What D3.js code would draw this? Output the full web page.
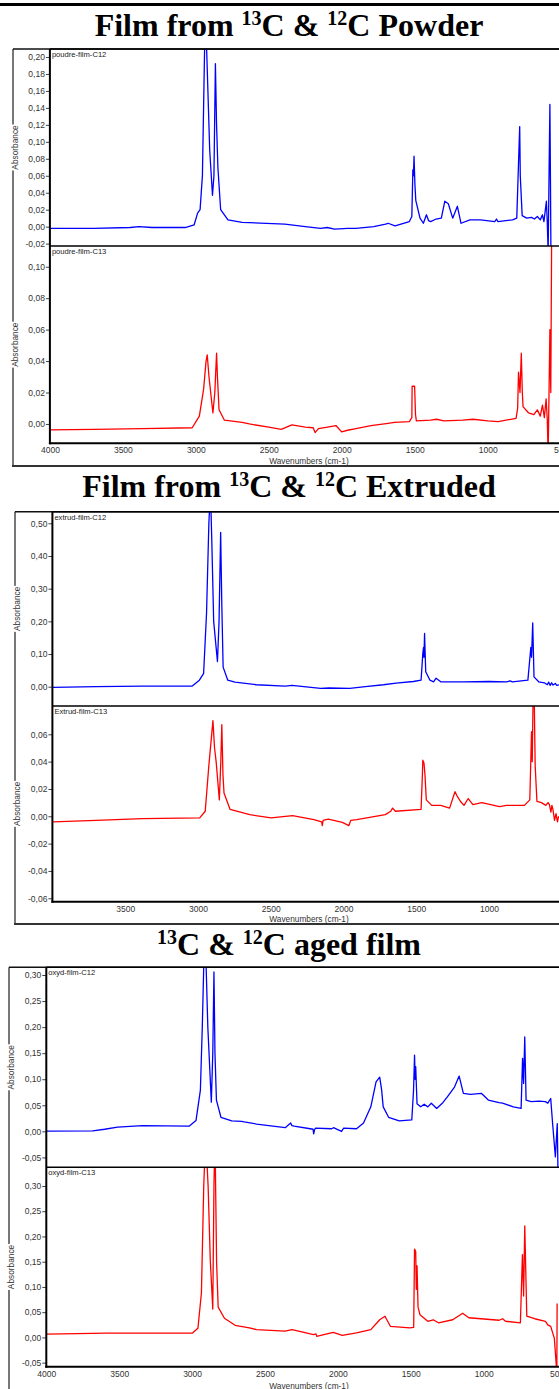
<!DOCTYPE html>
<html>
<head>
<meta charset="utf-8">
<script src="https://cdn.jsdelivr.net/npm/d3@7"></script>
<style>
  body { margin: 0; background: #fff; }
  svg { display: block; }
</style>
</head>
<body>
<svg id="chart" width="559" height="1389"></svg>
<script>
// spectra: [wavenumber (cm-1), absorbance]
const powderC12 = [[4000,-0.002],[3700,-0.002],[3450,-0.001],[3390,0.0],[3300,-0.001],[3073,-0.001],[3012,0.002],[2988,0.016],[2971,0.02],[2955,0.06],[2945,0.16],[2936,0.25],[2928,0.22],[2905,0.09],[2886,0.037],[2876,0.06],[2866,0.192],[2858,0.12],[2849,0.07],[2830,0.02],[2780,0.008],[2683,0.005],[2390,0.003],[2250,0.0],[2146,-0.002],[2100,-0.001],[2050,-0.003],[1960,-0.002],[1903,-0.002],[1781,0.0],[1700,0.003],[1683,0.004],[1635,0.001],[1537,0.006],[1520,0.012],[1513,0.067],[1509,0.06],[1505,0.083],[1499,0.05],[1493,0.031],[1464,0.01],[1441,0.004],[1420,0.014],[1405,0.007],[1391,0.006],[1354,0.009],[1318,0.01],[1294,0.03],[1270,0.027],[1240,0.01],[1208,0.024],[1183,0.004],[1122,0.008],[1049,0.008],[952,0.006],[940,0.009],[930,0.006],[830,0.008],[801,0.01],[789,0.075],[781,0.118],[777,0.06],[764,0.013],[733,0.01],[700,0.011],[680,0.009],[660,0.012],[640,0.008],[625,0.014],[615,0.006],[605,0.02],[598,0.03],[592,0.005],[586,-0.03],[580,0.06],[574,0.144],[570,0.05],[567,-0.03],[562,-0.03]];
const powderC13 = [[4000,-0.0038],[3700,-0.0034],[3366,-0.003],[3025,-0.0024],[2976,0.005],[2947,0.022],[2930,0.04],[2922,0.044],[2910,0.03],[2883,0.007],[2870,0.02],[2858,0.045],[2852,0.03],[2841,0.009],[2805,0.0025],[2683,0.001],[2634,0.0],[2500,-0.002],[2415,-0.0034],[2342,-0.0006],[2250,-0.002],[2196,-0.0024],[2183,-0.0055],[2160,-0.003],[2098,-0.002],[2040,-0.001],[2001,-0.005],[1960,-0.004],[1903,-0.003],[1800,-0.001],[1683,0.0004],[1640,0.001],[1537,0.0015],[1520,0.004],[1518,0.024],[1501,0.024],[1495,0.006],[1489,0.002],[1391,0.0025],[1350,0.003],[1300,0.002],[1171,0.0025],[1100,0.003],[1000,0.002],[928,0.0015],[806,0.0036],[795,0.01],[789,0.033],[779,0.02],[770,0.045],[763,0.02],[758,0.011],[720,0.007],[684,0.006],[660,0.009],[640,0.005],[625,0.012],[612,0.004],[600,0.016],[592,0.003],[586,-0.02],[580,0.02],[574,0.06],[568,0.02],[562,0.12]];
const extrudC12 = [[3997,-0.002],[3700,0.0],[3382,0.002],[3039,0.002],[2990,0.02],[2961,0.041],[2941,0.225],[2925,0.5],[2914,0.6],[2905,0.45],[2892,0.2],[2866,0.077],[2855,0.2],[2844,0.472],[2836,0.25],[2827,0.06],[2795,0.02],[2746,0.014],[2599,0.006],[2400,0.002],[2354,0.004],[2157,-0.005],[2100,-0.004],[1957,-0.005],[1850,0.0],[1725,0.006],[1639,0.011],[1520,0.016],[1467,0.02],[1455,0.102],[1450,0.12],[1447,0.09],[1443,0.163],[1435,0.046],[1406,0.02],[1381,0.015],[1364,0.026],[1332,0.015],[1173,0.015],[1000,0.016],[879,0.015],[855,0.018],[840,0.015],[733,0.02],[713,0.12],[708,0.09],[700,0.195],[691,0.03],[659,0.015],[620,0.012],[600,0.006],[590,0.014],[580,0.004],[570,0.012],[560,0.005],[545,0.01],[535,0.004],[520,0.006]];
const extrudC13 = [[3997,-0.0041],[3700,-0.003],[3380,-0.0017],[2988,-0.0012],[2950,0.0037],[2926,0.036],[2897,0.07],[2886,0.05],[2875,0.04],[2853,0.012],[2843,0.04],[2836,0.067],[2828,0.03],[2821,0.017],[2779,0.005],[2644,0.0012],[2497,-0.0012],[2350,0.0005],[2203,-0.0024],[2150,-0.004],[2146,-0.0068],[2140,-0.003],[2105,-0.002],[2008,-0.0044],[1963,-0.0068],[1950,-0.003],[1909,-0.0024],[1713,0.0012],[1675,0.0037],[1663,0.006],[1643,0.0037],[1467,0.005],[1458,0.03],[1455,0.041],[1447,0.039],[1440,0.03],[1431,0.012],[1394,0.008],[1332,0.008],[1271,0.006],[1234,0.018],[1220,0.015],[1197,0.011],[1172,0.008],[1143,0.013],[1111,0.0085],[1050,0.01],[928,0.007],[880,0.008],[757,0.008],[720,0.012],[708,0.062],[703,0.04],[697,0.09],[690,0.09],[683,0.037],[671,0.011],[640,0.01],[610,0.008],[595,0.01],[585,0.0085],[575,0.003],[568,0.008],[561,0.005],[550,-0.003],[540,0.002],[530,-0.004],[522,0.0]];
const oxydC12 = [[4000,0.0006],[3682,0.001],[3600,0.004],[3511,0.008],[3340,0.011],[3021,0.010],[2973,0.021],[2943,0.079],[2930,0.2],[2918,0.34],[2905,0.33],[2892,0.2],[2868,0.056],[2858,0.15],[2850,0.306],[2843,0.15],[2833,0.06],[2802,0.027],[2728,0.02],[2660,0.019],[2643,0.018],[2557,0.014],[2361,0.007],[2324,0.016],[2315,0.011],[2300,0.010],[2190,0.005],[2170,0.004],[2166,-0.005],[2160,0.003],[2154,0.006],[2043,0.005],[2030,0.007],[1975,0.0],[1960,0.006],[1872,0.005],[1824,0.016],[1774,0.047],[1738,0.095],[1713,0.104],[1700,0.08],[1689,0.047],[1652,0.027],[1579,0.02],[1493,0.022],[1481,0.078],[1474,0.146],[1470,0.1],[1466,0.124],[1457,0.053],[1432,0.047],[1408,0.052],[1383,0.047],[1359,0.054],[1322,0.044],[1280,0.055],[1249,0.066],[1200,0.085],[1168,0.106],[1139,0.073],[1090,0.071],[1016,0.073],[968,0.06],[894,0.055],[870,0.054],[796,0.047],[743,0.044],[733,0.14],[726,0.092],[718,0.181],[709,0.06],[674,0.057],[620,0.058],[576,0.057],[560,0.054],[540,0.063],[527,0.015],[508,-0.049],[495,0.015],[490,-0.08]];
const oxydC13 = [[4000,0.0067],[3584,0.0087],[2997,0.0087],[2960,0.018],[2936,0.088],[2920,0.3],[2907,0.4],[2890,0.3],[2875,0.152],[2858,0.056],[2850,0.3],[2843,0.4],[2832,0.15],[2821,0.06],[2778,0.038],[2705,0.024],[2607,0.019],[2558,0.0155],[2362,0.0125],[2314,0.0155],[2167,0.0055],[2150,0.007],[2145,0.002],[2032,0.01],[1970,0.004],[1872,0.009],[1774,0.0155],[1713,0.035],[1677,0.042],[1640,0.022],[1506,0.019],[1480,0.02],[1474,0.175],[1466,0.17],[1462,0.095],[1457,0.142],[1450,0.06],[1437,0.045],[1383,0.032],[1346,0.035],[1310,0.029],[1212,0.035],[1144,0.048],[1102,0.039],[894,0.034],[870,0.037],[850,0.032],[748,0.029],[734,0.164],[726,0.082],[718,0.221],[704,0.042],[650,0.037],[576,0.032],[560,0.025],[540,0.022],[515,-0.002],[498,-0.07],[496,0.067]];

// tick labels
const ticksXFull = [4000, 3500, 3000, 2500, 2000, 1500, 1000, 500];
const ticksXExtrud = [3500, 3000, 2500, 2000, 1500, 1000];
const ticksPowderC12 = [-0.02, 0, 0.02, 0.04, 0.06, 0.08, 0.10, 0.12, 0.14, 0.16, 0.18, 0.20];
const ticksPowderC13 = [0, 0.02, 0.04, 0.06, 0.08, 0.10];
const ticksExtrudC12 = [0, 0.10, 0.20, 0.30, 0.40, 0.50];
const ticksExtrudC13 = [-0.06, -0.04, -0.02, 0, 0.02, 0.04, 0.06];
const ticksOxyd = [-0.05, 0, 0.05, 0.10, 0.15, 0.20, 0.25, 0.30];

const titles = [
  [['Film from ', false], ['13', true], ['C & ', false], ['12', true], ['C Powder', false]],
  [['Film from ', false], ['13', true], ['C & ', false], ['12', true], ['C Extruded', false]],
  [['13', true], ['C & ', false], ['12', true], ['C aged film', false]]
];

const panels = [
  { title: titles[0], titleY: 36, frameX: 13, frameTop: 49, frameBottom: 466,
    left: 49.9, xDomain: [4000, 450], xRight: 568, xTicks: ticksXFull, xTitleY: 464,
    subs: [
      { name: 'poudre-film-C12', data: powderC12, color: '#0000ff', top: 49, bottom: 246, y: [-0.0228, 0.2094], ticks: ticksPowderC12 },
      { name: 'poudre-film-C13', data: powderC13, color: '#ff0000', top: 246, bottom: 443.3, y: [-0.0123, 0.1132], ticks: ticksPowderC13 }
    ] },
  { title: titles[1], titleY: 497, frameX: 15, frameTop: 511.7, frameBottom: 924,
    left: 52.4, xDomain: [4000, 474], xRight: 565.6, xTicks: ticksXExtrud, xTitleY: 922,
    subs: [
      { name: 'extrud-film-C12', data: extrudC12, color: '#0000ff', top: 511.7, bottom: 706, y: [-0.059, 0.5355], ticks: ticksExtrudC12 },
      { name: 'Extrud-film-C13', data: extrudC13, color: '#ff0000', top: 706, bottom: 901.7, y: [-0.0625, 0.0807], ticks: ticksExtrudC13 }
    ] },
  { title: titles[2], titleY: 955, frameX: 9, frameTop: 967.3, frameBottom: 1400,
    left: 46.3, xDomain: [4000, 396], xRight: 571.7, xTicks: ticksXFull, xTitleY: 1388.5,
    subs: [
      { name: 'oxyd-film-C12', data: oxydC12, color: '#0000ff', top: 967.3, bottom: 1167.3, y: [-0.069, 0.3148], ticks: ticksOxyd },
      { name: 'oxyd-film-C13', data: oxydC13, color: '#ff0000', top: 1167.3, bottom: 1366.7, y: [-0.058, 0.337], ticks: ticksOxyd }
    ] }
];

const svg = d3.select('#chart');
const W = 559;
const comma = d3.formatLocale({ decimal: ',', thousands: '.', grouping: [3], currency: ['', ''], minus: '-' });
const fmtY = comma.format('.2f');
const sans = 'Liberation Sans, Arial, sans-serif';

// thick rule at the very top
svg.append('rect').attr('x', 0).attr('y', 3).attr('width', W).attr('height', 3).attr('fill', '#000');

panels.forEach((p, pi) => {
  const g = svg.append('g');

  // title
  const t = g.append('text')
    .attr('x', 289).attr('y', p.titleY)
    .attr('text-anchor', 'middle')
    .attr('font-family', 'Liberation Serif, Times New Roman, serif')
    .attr('font-weight', 'bold')
    .attr('font-size', 32);
  p.title.forEach(([txt, sup], i) => {
    const prevSup = i > 0 && p.title[i - 1][1];
    const ts = t.append('tspan').text(txt);
    if (sup) ts.attr('font-size', 20).attr('dy', -11);
    else if (prevSup) ts.attr('dy', 11);
  });

  // outer frame
  g.append('line').attr('x1', p.frameX).attr('x2', p.frameX).attr('y1', p.frameTop).attr('y2', p.frameBottom)
    .attr('stroke', '#777').attr('stroke-width', 2);
  g.append('line').attr('x1', p.frameX).attr('x2', W).attr('y1', p.frameTop).attr('y2', p.frameTop)
    .attr('stroke', '#111').attr('stroke-width', 1.5);
  g.append('line').attr('x1', p.frameX - 1).attr('x2', W).attr('y1', p.frameBottom).attr('y2', p.frameBottom)
    .attr('stroke', '#333').attr('stroke-width', 2);

  const x = d3.scaleLinear().domain(p.xDomain).range([p.left, p.xRight]);

  p.subs.forEach((s, si) => {
    const y = d3.scaleLinear().domain(s.y).range([s.bottom, s.top]);
    const clipId = `clip-${pi}-${si}`;
    svg.append('clipPath').attr('id', clipId)
      .append('rect').attr('x', p.left).attr('y', s.top).attr('width', W - p.left).attr('height', s.bottom - s.top);

    // y axis
    const ax = g.append('g').attr('transform', `translate(${p.left},0)`)
      .call(d3.axisLeft(y).tickValues(s.ticks).tickFormat(fmtY).tickSize(4).tickPadding(1));
    ax.select('.domain').remove();
    ax.selectAll('.tick line').attr('stroke', '#444');
    ax.selectAll('.tick text').attr('font-family', sans).attr('font-size', 8.5).attr('fill', '#333');

    // spectrum
    g.append('path')
      .datum(s.data)
      .attr('clip-path', `url(#${clipId})`)
      .attr('fill', 'none')
      .attr('stroke', s.color)
      .attr('stroke-width', 1.3)
      .attr('stroke-linejoin', 'round')
      .attr('d', d3.line().x(d => x(d[0])).y(d => y(d[1])));

    // sample name
    g.append('text').attr('x', p.left + 2).attr('y', s.top + 8)
      .attr('font-family', sans).attr('font-size', 7.6).attr('fill', '#222').text(s.name);

    // absorbance label with white backing over the frame line
    const cy = (s.top + s.bottom) / 2;
    g.append('rect').attr('x', p.frameX - 3).attr('y', cy - 23).attr('width', 9).attr('height', 46).attr('fill', '#fff');
    g.append('text').attr('transform', `translate(${p.frameX + 5},${cy}) rotate(-90)`)
      .attr('text-anchor', 'middle').attr('font-family', sans).attr('font-size', 8.3).attr('fill', '#333')
      .text('Absorbance');

    // divider / top line
    g.append('line').attr('x1', p.left).attr('x2', W).attr('y1', s.top).attr('y2', s.top)
      .attr('stroke', '#000').attr('stroke-width', 1.5);
  });

  const last = p.subs[p.subs.length - 1];
  // x axis
  const xa = g.append('g').attr('transform', `translate(0,${last.bottom})`)
    .call(d3.axisBottom(x).tickValues(p.xTicks).tickFormat(d3.format('d')).tickSize(0).tickPadding(4));
  xa.select('.domain').remove();
  xa.selectAll('.tick text').attr('font-family', sans).attr('font-size', 8.5).attr('fill', '#333');

  g.append('line').attr('x1', p.left - 1).attr('x2', W).attr('y1', last.bottom).attr('y2', last.bottom)
    .attr('stroke', '#000').attr('stroke-width', 2);
  g.append('line').attr('x1', p.left).attr('x2', p.left).attr('y1', p.subs[0].top).attr('y2', last.bottom + 1)
    .attr('stroke', '#000').attr('stroke-width', 2);

  g.append('text').attr('x', (p.left + p.xRight) / 2).attr('y', p.xTitleY)
    .attr('text-anchor', 'middle').attr('font-family', sans).attr('font-size', 8.3).attr('fill', '#333')
    .text('Wavenumbers (cm-1)');
});
</script>
</body>
</html>
